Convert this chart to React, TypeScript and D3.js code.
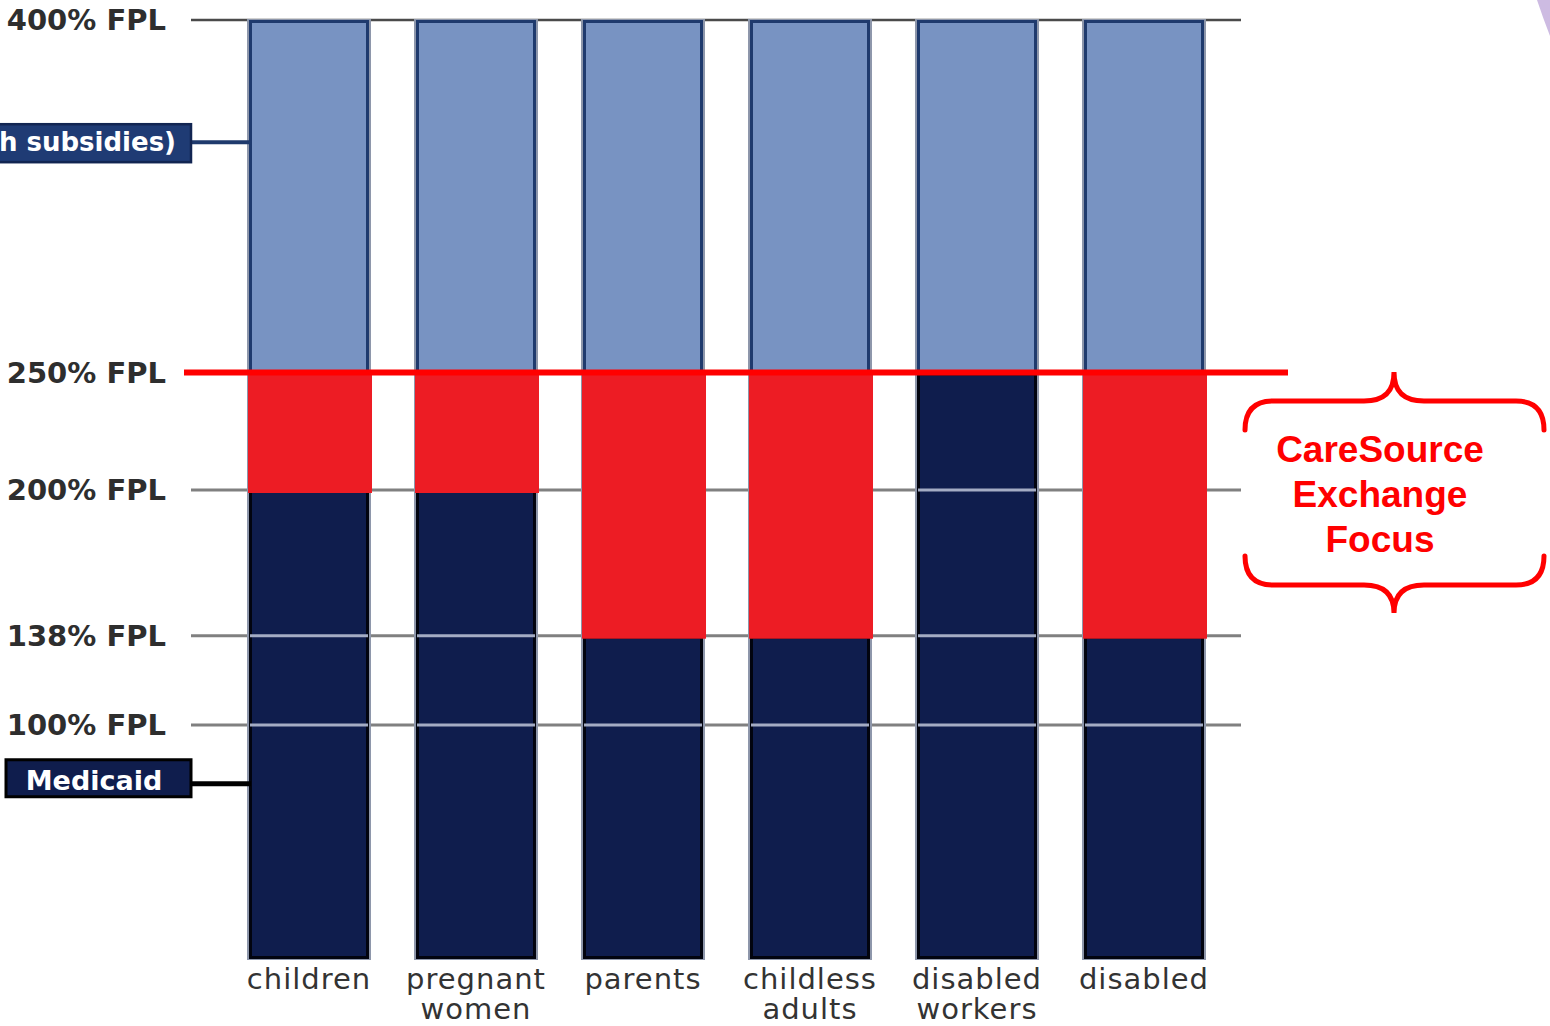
import React from "react";
import * as d3 from "d3";

const categories = ["children", "pregnant women", "parents", "childless adults", "disabled workers", "disabled"];
const categoryLines = [["children"], ["pregnant", "women"], ["parents"], ["childless", "adults"], ["disabled", "workers"], ["disabled"]];
const medicaidLimit = [200, 200, 138, 138, 250, 138];
const exchangeLimit = [400, 400, 400, 400, 400, 400];
const focusLimit = 250;
const fplTicks = [400, 250, 200, 138, 100];
const gridTicks = [400, 200, 138, 100];
const exchangeLabelValue = 348;
const medicaidLabelValue = 75;
const calloutLines = ["CareSource", "Exchange", "Focus"];

const W = 1550;
const H = 1026;

export default function App() {
  const y = d3.scaleLinear().domain([0, 400]).range([960, 20]);
  const x = d3.scaleBand<string>().domain(categories).range([249, 1204]).paddingInner(0.2814).paddingOuter(0);
  const bw = x.bandwidth();
  const labelFont = "'DejaVu Sans', sans-serif";

  // brace geometry
  const bL = 1245, bR = 1544, bC = 1394, r = 28;
  const topY = 401, tipTop = 372, bottomY = 585, tipBottom = 613;
  const bracePath = (hy: number, endY: number, tipY: number) => {
    const t = Math.sign(tipY - hy);
    return `M${bL},${endY} Q${bL},${hy} ${bL + r},${hy} L${bC - 30},${hy} C${bC - 9},${hy} ${bC},${hy + t * 10} ${bC},${tipY} C${bC},${hy + t * 10} ${bC + 9},${hy} ${bC + 30},${hy} L${bR - r},${hy} Q${bR},${hy} ${bR},${endY}`;
  };

  return (
    <svg width={W} height={H} style={{ position: "absolute", left: 0, top: 0, background: "#fff" }}>
      <rect x={0} y={0} width={W} height={H} fill="#fff" />
      {/* purple corner decoration */}
      <path d={`M1537,0 Q1543,18 1550,36 L1550,0 Z`} fill="#cdbbe2" />

      {/* gridlines */}
      {gridTicks.map((t) => (
        <line key={"g" + t} x1={191} x2={1241} y1={y(t)} y2={y(t)} stroke={t === 400 ? "#4a4a4a" : "#808080"} strokeWidth={t === 400 ? 2.5 : 3} />
      ))}

      {/* bars */}
      {categories.map((c, i) => {
        const x0 = x(c)!;
        const m = medicaidLimit[i];
        const sepTicks = gridTicks.filter((t) => t < m);
        return (
          <g key={c}>
            <rect x={x0 - 1} y={y(exchangeLimit[i])} width={bw + 2} height={y(0) - y(exchangeLimit[i]) - 1} fill="none" stroke="#8e97ab" strokeWidth={2} />
            <rect x={x0 + 1.5} y={y(exchangeLimit[i]) + 1.5} width={bw - 3} height={y(m) - y(exchangeLimit[i]) - 1.5} fill="#7893c2" stroke="#1f3a6d" strokeWidth={3} />
            <rect x={x0 + 1.5} y={y(m) + 1.5} width={bw - 3} height={y(0) - y(m) - 4} fill="#0f1d4d" stroke="#02040f" strokeWidth={3} />
            {sepTicks.map((t) => (
              <line key={t} x1={x0 + 1} x2={x0 + bw - 1} y1={y(t)} y2={y(t)} stroke="#a4acc4" strokeWidth={3} />
            ))}
          </g>
        );
      })}

      {/* CareSource focus overlay */}
      {categories.map((c, i) => {
        const m = medicaidLimit[i];
        if (m >= focusLimit) return null;
        const x0 = x(c)!;
        return <rect key={"f" + c} x={x0 - 1} y={y(focusLimit)} width={bw + 4} height={y(m) - y(focusLimit) + 3} fill="#ed1c24" />;
      })}

      {/* 250% line */}
      <line x1={184} x2={1288} y1={y(focusLimit)} y2={y(focusLimit)} stroke="#ff0000" strokeWidth={6} />

      {/* FPL labels */}
      {fplTicks.map((t) => (
        <text key={"l" + t} x={166} y={y(t) + 10} textAnchor="end" fontFamily={labelFont} fontWeight="bold" fontSize={29} fill="#2e2e2e">
          {t}% FPL
        </text>
      ))}

      {/* exchange label box */}
      <line x1={190} x2={251} y1={y(exchangeLabelValue)} y2={y(exchangeLabelValue)} stroke="#1f3a6d" strokeWidth={4} />
      <rect x={-4} y={y(exchangeLabelValue) - 18} width={195} height={38} fill="#1f3b74" stroke="#122552" strokeWidth={2.5} />
      <text x={176} y={y(exchangeLabelValue) + 9} textAnchor="end" fontFamily={labelFont} fontWeight="bold" fontSize={26} fill="#ffffff">
        h subsidies)
      </text>

      {/* medicaid label box */}
      <line x1={190} x2={251} y1={y(medicaidLabelValue)} y2={y(medicaidLabelValue)} stroke="#000000" strokeWidth={5} />
      <rect x={6} y={y(medicaidLabelValue) - 24} width={185} height={37} fill="#0f1d4d" stroke="#000000" strokeWidth={3} />
      <text x={94} y={y(medicaidLabelValue) + 6} textAnchor="middle" fontFamily={labelFont} fontWeight="bold" fontSize={27} fill="#ffffff">
        Medicaid
      </text>

      {/* category labels */}
      {categories.map((c, i) => (
        <text key={"c" + c} textAnchor="middle" fontFamily={labelFont} fontSize={29} fill="#333" letterSpacing={1}>
          {categoryLines[i].map((ln, j) => (
            <tspan key={j} x={x(c)! + bw / 2} y={989 + j * 30}>
              {ln}
            </tspan>
          ))}
        </text>
      ))}

      {/* callout brace */}
      <path d={bracePath(topY, 430, tipTop)} fill="none" stroke="#ff0000" strokeWidth={5} strokeLinecap="round" />
      <path d={bracePath(bottomY, 556, tipBottom)} fill="none" stroke="#ff0000" strokeWidth={5} strokeLinecap="round" />
      {calloutLines.map((ln, i) => (
        <text key={ln} x={1380} y={462 + i * 45} textAnchor="middle" fontFamily="'Liberation Sans', Arial, sans-serif" fontWeight="bold" fontSize={37} fill="#ff0000">
          {ln}
        </text>
      ))}
    </svg>
  );
}
